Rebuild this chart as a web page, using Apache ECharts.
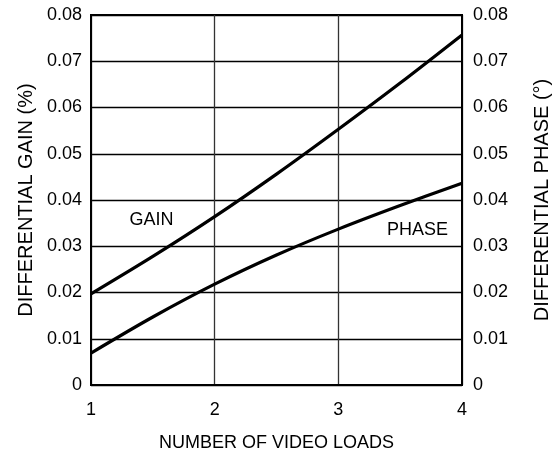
<!DOCTYPE html>
<html>
<head>
<meta charset="utf-8">
<script src="https://cdn.jsdelivr.net/npm/echarts@6/dist/echarts.min.js"></script>
<style>
html,body{margin:0;padding:0;background:#fff;}
#chart{width:553px;height:460px;}
</style>
</head>
<body>
<div id="chart"></div>
<script>
var loads = [1, 1.5, 2, 2.5, 3, 3.5, 4];
var gainValues = [0.0197, 0.0278, 0.0364, 0.0456, 0.0553, 0.0653, 0.0757];
var phaseValues = [0.0069, 0.0147, 0.0218, 0.0281, 0.0337, 0.0388, 0.0436];
var xTicks = [1, 2, 3, 4];
var yTicks = [0, 0.01, 0.02, 0.03, 0.04, 0.05, 0.06, 0.07, 0.08];
var seriesNames = ['GAIN', 'PHASE'];
var labelPos = [[1.49, 0.0357], [3.64, 0.0335]];

function pairs(xs, ys) { return xs.map(function (x, i) { return [x, ys[i]]; }); }
function yFmt(v) { return v === 0 ? '0' : v.toFixed(2); }

var font = 'Liberation Sans, Arial, sans-serif';
var chart = echarts.init(document.getElementById('chart'), null, {renderer: 'canvas'});

function yAxis(pos, name, gap) {
  return {
    type: 'value', position: pos, min: 0, max: 0.08, interval: 0.01,
    name: name, nameLocation: 'middle', nameGap: gap, nameRotate: 90,
    nameTextStyle: {color: '#000', fontSize: 20, fontFamily: font},
    axisLine: {show: true, lineStyle: {color: '#000', width: 2}},
    axisTick: {show: false},
    axisLabel: {color: '#000', fontSize: 18, fontFamily: font, margin: pos === 'left' ? 9 : 11, formatter: yFmt},
    splitLine: {show: pos === 'left', lineStyle: {color: '#000', width: 1.3}}
  };
}

function lineSeries(idx, ys) {
  return {
    name: seriesNames[idx], type: 'line', yAxisIndex: 0,
    data: pairs(loads, ys), smooth: 0.3, symbol: 'none',
    lineStyle: {color: '#000', width: 3.2},
    markPoint: {
      symbol: 'circle', symbolSize: 0,
      data: [{coord: labelPos[idx]}],
      label: {show: true, position: 'inside', formatter: seriesNames[idx], color: '#000', fontSize: 18, fontFamily: font}
    }
  };
}

chart.setOption({
  backgroundColor: '#fff',
  animation: false,
  grid: {left: 91, right: 91, top: 15, bottom: 75, outerBoundsMode: 'none', containLabel: false,
    show: true, borderColor: '#000', borderWidth: 2, backgroundColor: 'transparent'},
  xAxis: {
    type: 'value', min: 1, max: 4, interval: 1,
    name: 'NUMBER OF VIDEO LOADS', nameLocation: 'middle', nameGap: 49,
    nameTextStyle: {color: '#000', fontSize: 18, fontFamily: font},
    axisLine: {show: true, lineStyle: {color: '#000', width: 2}},
    axisTick: {show: false},
    axisLabel: {color: '#000', fontSize: 18, fontFamily: font, margin: 16,
      formatter: function (v) { return xTicks.indexOf(v) >= 0 ? String(v) : ''; }},
    splitLine: {show: true, lineStyle: {color: '#333', width: 1.3}}
  },
  yAxis: [yAxis('left', 'DIFFERENTIAL GAIN (%)', 53), yAxis('right', 'DIFFERENTIAL PHASE (°)', 70)],
  series: [lineSeries(0, gainValues), lineSeries(1, phaseValues)]
});
</script>
</body>
</html>
